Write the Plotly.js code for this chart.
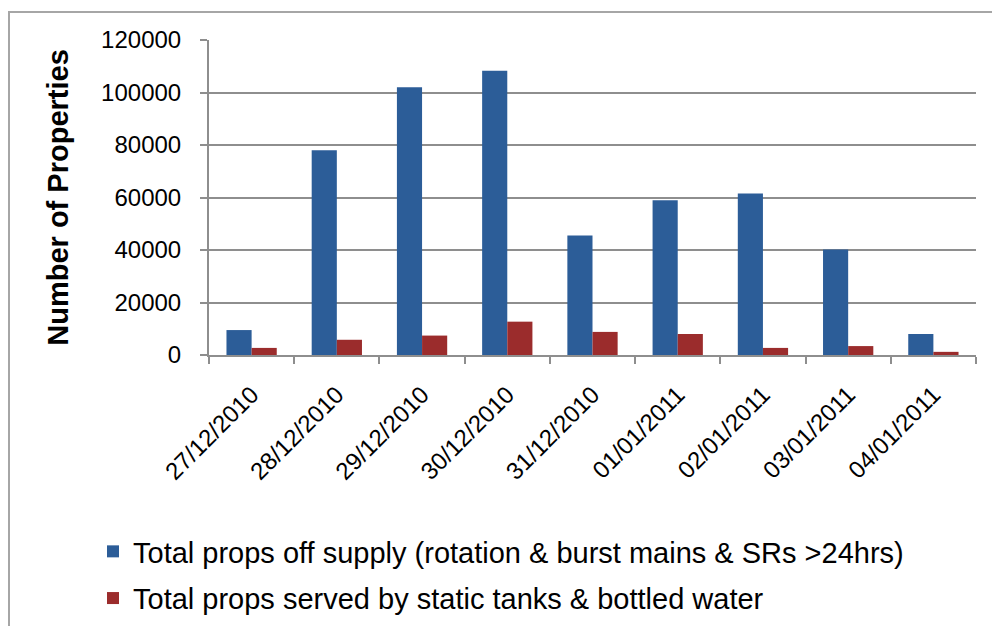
<!DOCTYPE html>
<html>
<head>
<meta charset="utf-8">
<script src="https://cdn.plot.ly/plotly-3.0.1.min.js"></script>
<style>html,body{margin:0;padding:0;background:#fff;}#chart{width:992px;height:626px;}</style>
</head>
<body>
<div id="chart"></div>
<script>
const dates = ["27/12/2010","28/12/2010","29/12/2010","30/12/2010","31/12/2010","01/01/2011","02/01/2011","03/01/2011","04/01/2011"];
const offSupply = [9500, 78000, 102000, 108300, 45500, 59000, 61500, 40200, 8000];
const staticTanks = [2700, 5800, 7400, 12700, 8800, 8000, 2700, 3400, 1200];
const seriesNames = ["Total props off supply (rotation & burst mains & SRs >24hrs)", "Total props served by static tanks & bottled water"];
const yTicks = [0, 20000, 40000, 60000, 80000, 100000, 120000];

const font = "Liberation Sans, Arial, sans-serif";
const gridC = "#8e8e8e";

const traces = [
  {type:"bar", x:dates, y:offSupply, name:seriesNames[0], legendgroup:"a", marker:{color:"#2C5D98"}},
  {type:"bar", x:dates, y:staticTanks, name:seriesNames[1], legendgroup:"b", marker:{color:"#9B2C2C"}}
];

const L=209, R=976, T=40, B=355;
const pw = R-L, ph = B-T;
const layout = {
  width:992, height:626,
  margin:{l:L, r:992-R, t:T, b:626-B, pad:0, autoexpand:false},
  paper_bgcolor:"#fff", plot_bgcolor:"#fff",
  barmode:"group", bargap:0.41, bargroupgap:0,
  font:{family:font, color:"#000", size:24},
  showlegend:true,
  legend:{orientation:"v", x:(93-L)/pw, xanchor:"left", y:(B-526)/ph, yanchor:"top",
          font:{size:29, family:font}, traceorder:"grouped", tracegroupgap:6, bgcolor:"rgba(0,0,0,0)"},
  xaxis:{type:"category", tickangle:-45, ticks:"outside", tickson:"boundaries", ticklen:7, tickcolor:gridC, tickwidth:2,
         showline:true, linecolor:gridC, linewidth:2, showgrid:false, tickfont:{size:24, family:font},
         ticklabelstandoff:14, automargin:false},
  yaxis:{range:[0,120000], tickvals:yTicks, ticktext:yTicks.map(String), ticks:"outside", ticklen:7, tickcolor:gridC, tickwidth:2,
         showline:true, linecolor:gridC, linewidth:2, showgrid:true, gridcolor:gridC, gridwidth:2, zeroline:false,
         tickfont:{size:24, family:font}, ticklabelstandoff:14, automargin:false,
         title:{text:"<b>Number of Properties</b>", font:{size:29, family:font}, standoff:24}},
  shapes:[{type:"rect", xref:"paper", yref:"paper", x0:(9-L)/pw, x1:(1000-L)/pw, y0:(B-640)/ph, y1:(B-12)/ph,
           line:{color:"#a6a6a6", width:2}, fillcolor:"rgba(0,0,0,0)", layer:"below"}]
};

Plotly.newPlot("chart", traces, layout, {displayModeBar:false, staticPlot:true});
</script>
</body>
</html>
